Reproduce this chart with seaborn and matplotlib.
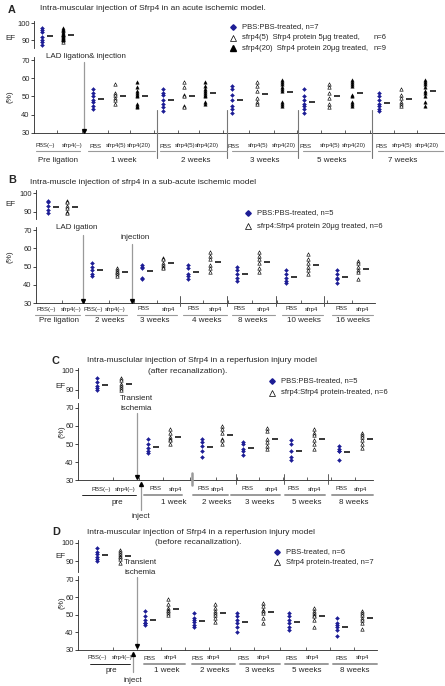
import matplotlib
matplotlib.use("Agg")
import matplotlib.pyplot as plt
from matplotlib.lines import Line2D
import numpy as np
import pandas as pd
import seaborn as sns

# ---------------- data (EF %) ----------------
# Panel A: pre ligation, 1, 2, 3, 5, 7 weeks
A_GROUPS = ["Pre ligation", "1 week", "2 weeks", "3 weeks", "5 weeks", "7 weeks"]
A_PBS = [[97, 96, 95, 92, 90, 89, 87],
         [54, 52, 50, 48, 47, 45, 43],
         [54, 52, 51, 48, 46, 44, 42],
         [56, 54, 51, 48, 45, 43, 41],
         [54, 50, 48, 46, 45, 43, 41],
         [52, 50, 48, 46, 45, 43, 42]]
A_S5 = [[96, 94, 93, 92, 91, 89],
        [57, 52, 51, 49, 48, 46],
        [58, 55, 51, 50, 45, 44],
        [58, 56, 53, 49, 47, 46],
        [57, 55, 52, 49, 46, 44],
        [54, 51, 49, 47, 46, 45]]
A_S20 = [[97, 96, 95, 94, 93, 92, 91, 91, 90],
         [58, 55, 53, 52, 51, 50, 46, 45, 44],
         [58, 56, 54, 53, 52, 51, 50, 47, 46],
         [59, 58, 57, 55, 54, 53, 47, 46, 45],
         [59, 58, 57, 56, 51, 50, 47, 46, 45],
         [59, 58, 57, 55, 53, 52, 50, 47, 45]]

# Panel B: pre ligation, 2, 3, 4, 8, 10, 16 weeks
B_GROUPS = ["Pre ligation", "2 weeks", "3 weeks", "4 weeks", "8 weeks", "10 weeks", "16 weeks"]
B_PBS = [[96, 95, 93, 91, 89],
         [52, 50, 48, 46, 45],
         [51, 50, 49, 44, 43],
         [51, 49, 46, 45, 43],
         [50, 48, 46, 44, 42],
         [48, 46, 44, 42, 41],
         [48, 46, 44, 43, 41]]
B_SFRP = [[96, 95, 93, 92, 90, 89],
          [49, 48, 47, 47, 46, 45],
          [55, 54, 52, 51, 50, 49],
          [58, 56, 54, 51, 49, 47],
          [58, 56, 54, 52, 49, 47],
          [57, 54, 52, 50, 48, 46],
          [53, 52, 50, 48, 47, 43]]

# Panel C: pre, 1, 2, 3, 5, 8 weeks
C_GROUPS = ["pre", "1 week", "2 weeks", "3 weeks", "5 weeks", "8 weeks"]
C_PBS = [[96, 94, 92, 91, 90],
         [53, 50, 48, 46, 45],
         [53, 51, 49, 46, 43],
         [51, 50, 47, 46, 44],
         [52, 50, 46, 43, 41],
         [49, 47, 46, 46, 41]]
C_SFRP = [[96, 95, 93, 92, 91, 90],
          [58, 56, 54, 53, 52, 50],
          [60, 58, 56, 53, 52, 50],
          [59, 57, 53, 51, 49, 47],
          [58, 56, 55, 52, 50, 47],
          [56, 55, 54, 52, 50, 48]]

# Panel D: pre, 1, 2, 3, 5, 8 weeks
D_GROUPS = ["pre", "1 week", "2 weeks", "3 weeks", "5 weeks", "8 weeks"]
D_PBS = [[97, 95, 94, 92, 91, 90],
         [52, 49, 47, 45, 45, 44],
         [51, 48, 47, 46, 44, 43],
         [51, 49, 47, 45, 43, 40],
         [51, 49, 47, 45, 43, 41],
         [48, 45, 44, 43, 41, 38]]
D_SFRP = [[96, 95, 94, 93, 92, 91, 89],
          [59, 56, 54, 53, 52, 51, 50],
          [56, 54, 52, 51, 50, 48, 46],
          [57, 55, 53, 52, 51, 48, 45],
          [54, 52, 51, 50, 49, 47, 43],
          [52, 51, 50, 48, 47, 45, 42]]

PRE_CATS = ["PBS(–)", "sfrp4(–)"]
A_CATS = ["PBS", "sfrp4(5)", "sfrp4(20)"]
CATS2 = ["PBS", "sfrp4"]

# ---------------- layout (pixels of the 445x686 canvas) ----------------
W, H = 445, 686
BLUE = "#1d1d95"
GREY = "#9a9a9a"

A_X = [[42, 63], [93, 115, 137], [163, 184, 205], [232, 257, 282], [304, 329, 352], [379, 401, 425]]
A_LX = [[45, 72], [95, 116, 139], [165, 185, 207], [234, 258, 284], [306, 330, 354], [381, 402, 427]]
A_GX = [58, 124, 196, 265, 332, 403]
A_UL = [(36, 80), (88, 155), (160, 227), (232, 297), (303, 370), (378, 443)]

B_X = [[48, 67], [92, 117], [142, 163], [188, 210], [237, 259], [286, 308], [337, 358]]
B_LX = [[46, 71], [93, 115], [143, 168], [193, 215], [240, 263], [291, 311], [341, 362]]
B_GX = [59, 110, 155, 207, 253, 304, 353]
B_UL = [(35, 80), (85, 127), (137, 177), (183, 227), (232, 275), (282, 323), (332, 373)]

C_X = [[97, 121], [148, 170], [202, 222], [243, 267], [291, 314], [339, 362]]
C_LX = [[101, 125], [156, 175], [203, 217], [247, 271], [294, 314], [342, 360]]
C_GX = [117, 174, 217, 260, 307, 354]
C_UL = [(82, 136), (144, 182), (193, 228), (231, 280), (285, 325), (332, 373)]

D_X = [[97, 120], [145, 168], [194, 215], [237, 263], [289, 314], [337, 362]]
D_LX = [[97, 122], [150, 170], [197, 213], [244, 263], [292, 312], [342, 362]]
D_GX = [111, 167, 215, 260, 307, 355]
D_UL = [(90, 130), (144, 185), (192, 235), (240, 280), (285, 328), (333, 377)]

STYLE = {
    "pbs": dict(marker="D", s=4, color=BLUE, edgecolor=BLUE, linewidth=0.3),
    "open": dict(marker="^", s=6, color="white", edgecolor="black", linewidth=0.45),
    "filled": dict(marker="^", s=6, color="black", edgecolor="black", linewidth=0.3),
}

TITLE_FS = 6.0
LEG_FS = 5.5
CAT_FS = 4.3
GROUP_FS = 5.8
TICK_FS = 5.4

sns.set_style("ticks")
plt.rcParams["font.family"] = ["Liberation Sans", "DejaVu Sans"]
plt.rcParams["axes.linewidth"] = 0.6

fig = plt.figure(figsize=(W / 100, H / 100), dpi=100)


def rect(l, t, r, b):
    return [l / W, 1 - b / H, (r - l) / W, (b - t) / H]


def ftext(x, y, s, **kw):
    kw.setdefault("fontsize", 5.6)
    kw.setdefault("va", "center")
    fig.text(x / W, 1 - y / H, s, **kw)


def fline(xs, ys, **kw):
    kw.setdefault("color", "black")
    kw.setdefault("lw", 0.6)
    fig.add_artist(Line2D([x / W for x in xs], [1 - y / H for y in ys], **kw))


def fmark(x, y, **kw):
    fig.add_artist(Line2D([x / W], [1 - y / H], linestyle="none", **kw))


def arrow(x, y0, y1):
    # grey shaft with a small black head at y1
    fline([x, x], [y0, y1], color=GREY, lw=0.9)
    fmark(x, y1 - 1.5 if y1 > y0 else y1 + 1.5, marker="v" if y1 > y0 else "^",
          color="black", markersize=2.8)


series_index = {"open": 1, "filled": 2}


def build_frame(pbs, treated, xs, top_count=1):
    rows = []
    for g, (xg, p) in enumerate(zip(xs, pbs)):
        part = "top" if g < top_count else "low"
        rows += [dict(x=xg[0], ef=v, kind="pbs", part=part) for v in p]
    for kind, series in treated:
        for g, (xg, vals) in enumerate(zip(xs, series)):
            part = "top" if g < top_count else "low"
            col = 1 if g == 0 else series_index[kind]
            rows += [dict(x=xg[col], ef=v, kind=kind, part=part) for v in vals]
    return pd.DataFrame(rows)


def panel(df, xl, xr, top_box, low_box, top_ylim, low_ylim, xs):
    ax_top = fig.add_axes(rect(xl, top_box[0], xr, top_box[1]))
    ax_low = fig.add_axes(rect(xl, low_box[0], xr, low_box[1]))
    for ax, part, ylim, ticks in [(ax_top, "top", top_ylim, [90, 100]),
                                  (ax_low, "low", low_ylim, [30, 40, 50, 60, 70])]:
        sub = df[df["part"] == part]
        for kind in ["pbs", "open", "filled"]:
            d = sub[sub["kind"] == kind]
            if len(d):
                sns.scatterplot(data=d, x="x", y="ef", ax=ax, legend=False, zorder=3, **STYLE[kind])
        means = sub.groupby("x")["ef"].mean()
        ax.hlines(means.values, means.index + 5, means.index + 11, color="black", lw=1.1, zorder=4)
        ax.set_xlim(xl, xr)
        ax.set_ylim(*ylim)
        ax.set_yticks(ticks)
        ax.set_xlabel("")
        ax.set_ylabel("")
        ax.tick_params(axis="y", labelsize=TICK_FS, length=2, width=0.6, pad=1.2)
        ax.patch.set_alpha(0)
    sns.despine(ax=ax_top, bottom=True)
    ax_top.set_xticks([])
    sns.despine(ax=ax_low)
    flat = sorted(x for g in xs for x in g)
    mids = [(a + b) / 2 + 4 for a, b in zip(flat[:-1], flat[1:])]
    ax_low.set_xticks(mids)
    ax_low.set_xticklabels([])
    ax_low.tick_params(axis="x", direction="in", length=2, width=0.5)
    return ax_top, ax_low


def xlabels(lx, cats_by_group, gx, names, ul, y_lab, y_ul, y_name, ul_colors):
    for g, (lxs, cats) in enumerate(zip(lx, cats_by_group)):
        for x, c in zip(lxs, cats):
            ftext(x, y_lab, c, fontsize=CAT_FS, ha="center")
        fline(list(ul[g]), [y_ul, y_ul], color=ul_colors[g][0], lw=ul_colors[g][1])
        ftext(gx[g], y_name, names[g], fontsize=GROUP_FS, ha="center")


def legend_row(x, y, kind, label):
    if kind == "pbs":
        fmark(x, y, marker="D", color=BLUE, markersize=2.8)
    elif kind == "open":
        fmark(x, y, marker="^", markerfacecolor="white", markeredgecolor="black",
              markersize=4.5, markeredgewidth=0.5)
    else:
        fmark(x, y, marker="^", color="black", markersize=4.5)
    ftext(x + 9, y, label, fontsize=LEG_FS)


# ---------------- Panel A ----------------
dfA = build_frame(A_PBS, [("open", A_S5), ("filled", A_S20)], A_X)
panel(dfA, 34, 445, (21, 48), (57, 132.7), (85.5, 101.35), (30, 71.8), A_X)
ftext(8, 10, "A", fontsize=7.8, weight="bold")
ftext(40, 9, "Intra-muscular injection of Sfrp4 in an acute ischemic model.", fontsize=TITLE_FS)
ftext(5, 38, "EF", fontsize=5.8)
ftext(10, 97, "(%)", fontsize=5.8, rotation=90, ha="center")
legend_row(233, 27, "pbs", "PBS:PBS-treated, n=7")
legend_row(233, 37.5, "open", "sfrp4(5)  Sfrp4 protein 5μg treated,")
ftext(374, 37.5, "n=6", fontsize=LEG_FS)
legend_row(233, 48, "filled", "sfrp4(20)  Sfrp4 protein 20μg treated,")
ftext(374, 48, "n=9", fontsize=LEG_FS)
ftext(46, 57, "LAD ligation& injection", fontsize=5.8)
arrow(84, 62, 132)
for x in [157, 227, 298, 372]:
    fline([x, x], [110, 158], color="#777777", lw=0.8)
xlabels(A_LX, [PRE_CATS] + [A_CATS] * 5, A_GX, A_GROUPS, A_UL, 146, 151, 160,
        [(GREY, 0.8)] * 6)

# ---------------- Panel B ----------------
dfB = build_frame(B_PBS, [("open", B_SFRP)], B_X)
panel(dfB, 36, 375, (190, 219), (227, 303), (86.0, 101.8), (30, 71.8), B_X)
ftext(8, 180, "B", fontsize=7.8, weight="bold")
ftext(30, 183, "Intra-muscle injection of sfrp4 in a sub-acute ischemic model", fontsize=TITLE_FS)
ftext(5, 205, "EF", fontsize=5.8)
ftext(10, 257, "(%)", fontsize=5.8, rotation=90, ha="center")
legend_row(248, 213, "pbs", "PBS:PBS-treated, n=5")
legend_row(248, 226, "open", "sfrp4:Sfrp4 protein 20μg treated, n=6")
ftext(77, 227, "LAD igation", fontsize=5.8, ha="center")
arrow(83, 235, 302)
ftext(135, 238, "injection", fontsize=5.8, ha="center")
arrow(132, 244, 302)
for x in [180, 227, 276, 324]:
    fline([x, x], [296, 306], color="#555555", lw=0.7)
xlabels(B_LX, [PRE_CATS, PRE_CATS] + [CATS2] * 5, B_GX, B_GROUPS, B_UL, 309, 315, 321,
        [(GREY, 0.8)] * 7)

# ---------------- Panel C ----------------
dfC = build_frame(C_PBS, [("open", C_SFRP)], C_X)
panel(dfC, 78, 373, (368, 398), (403, 480.3), (86, 101), (30, 72.6), C_X)
ftext(52, 361, "C", fontsize=7.8, weight="bold")
ftext(87, 361, "Intra-musclular injection of Sfrp4 in a reperfusion injury model", fontsize=TITLE_FS)
ftext(148, 371, "(after recanalization).", fontsize=TITLE_FS)
ftext(55, 386, "EF", fontsize=5.8)
ftext(62, 432, "(%)", fontsize=5.8, rotation=90, ha="center")
legend_row(272, 381, "pbs", "PBS:PBS-treated, n=5")
legend_row(272, 393, "open", "sfrp4:Sfrp4 protein-treated, n=6")
ftext(136, 398, "Transient", fontsize=5.8, ha="center")
ftext(136, 408, "ischemia", fontsize=5.8, ha="center")
arrow(137, 413, 478)
arrow(141, 510, 482)
ftext(141, 516, "inject", fontsize=5.8, ha="center")
fline([192, 192], [473, 485], color=GREY, lw=1.8)
for x in [236, 284, 328]:
    fline([x, x], [474, 484], color="#444444", lw=0.6)
xlabels(C_LX, [PRE_CATS] + [CATS2] * 5, C_GX, C_GROUPS, C_UL, 489, 495, 502,
        [("black", 0.6)] + [(GREY, 1.4)] * 5)

# ---------------- Panel D ----------------
dfD = build_frame(D_PBS, [("open", D_SFRP)], D_X)
panel(dfD, 78, 377, (540, 572), (576, 649.5), (84, 101.5), (30, 72.3), D_X)
ftext(52, 532, "D", fontsize=7.8, weight="bold")
ftext(87, 532, "Intra-muscular injection of Sfrp4 in a reperfusion injury model", fontsize=TITLE_FS)
ftext(155, 543, "(before recanalization).", fontsize=TITLE_FS)
ftext(55, 557, "EF", fontsize=5.8)
ftext(62, 603, "(%)", fontsize=5.8, rotation=90, ha="center")
legend_row(277, 552, "pbs", "PBS-treated, n=6")
legend_row(277, 562, "open", "Sfrp4 protein-treated, n=7")
ftext(140, 562, "Transient", fontsize=5.8, ha="center")
ftext(140, 572, "ischemia", fontsize=5.8, ha="center")
arrow(137, 577, 647)
arrow(133, 672, 652)
ftext(133, 681, "inject", fontsize=5.8, ha="center")
xlabels(D_LX, [PRE_CATS] + [CATS2] * 5, D_GX, D_GROUPS, D_UL, 658, 664, 671,
        [("black", 0.6)] + [(GREY, 1.4)] * 5)

fig.savefig("out.png", dpi=100)
